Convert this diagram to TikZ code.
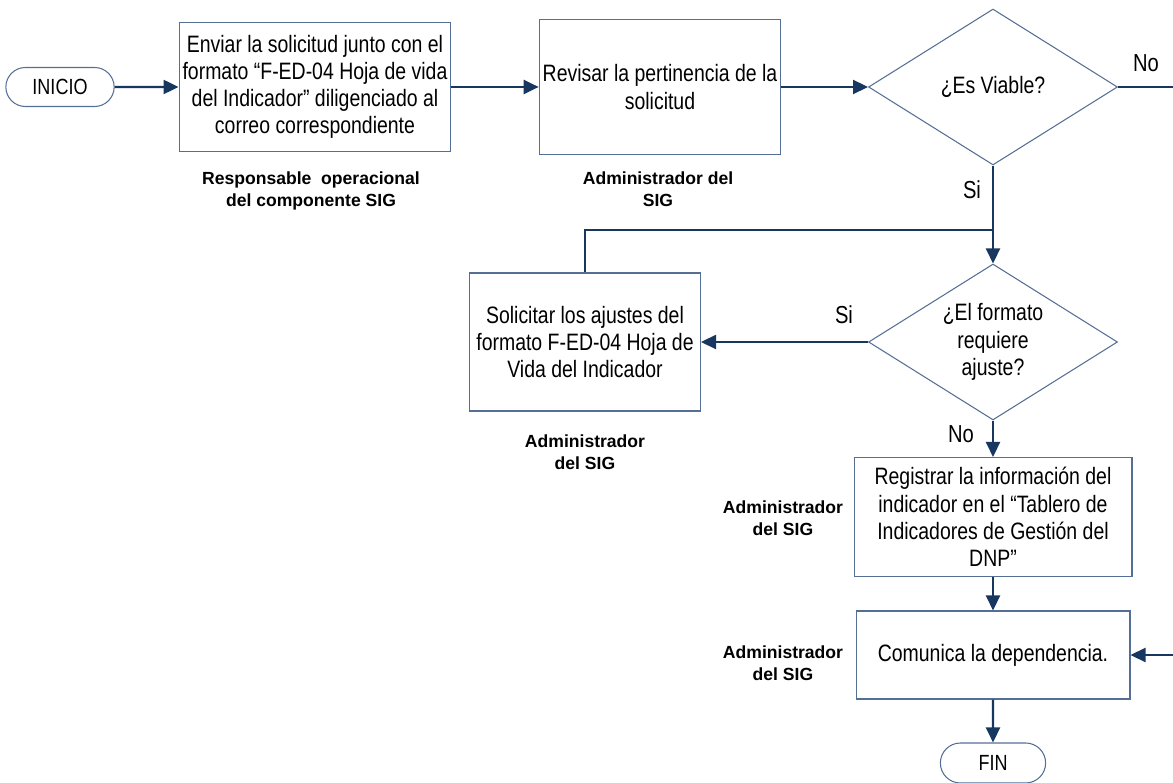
\documentclass[tikz,border=0pt]{standalone}
\usepackage{fontspec}
\setmainfont{Liberation Sans}[FakeStretch=0.82]
\newfontfamily\rolfont{Liberation Sans}
\usetikzlibrary{shapes.geometric,shapes.misc,arrows.meta}
\definecolor{borde}{RGB}{84,110,148}
\definecolor{azul}{RGB}{24,55,96}
\tikzset{
  proceso/.style={draw=borde,line width=0.6pt,align=center,inner sep=2pt,
    font=\fontsize{13.5}{15.5}\selectfont},
  decision/.style={diamond,draw=borde,line width=0.6pt,align=center,inner sep=0pt,
    aspect=1.6,minimum width=4.98cm,minimum height=3.12cm,
    font=\fontsize{13.5}{15.5}\selectfont},
  terminal/.style={rounded rectangle,draw=borde,line width=0.6pt,
    minimum height=0.78cm,font=\fontsize{12.5}{14}\selectfont},
  rol/.style={align=center,font=\rolfont\bfseries\fontsize{10}{12.5}\selectfont},
  rotulo/.style={font=\fontsize{14}{16}\selectfont},
  linea/.style={draw=azul,line width=1.3pt},
  flecha/.style={linea,-{Triangle[length=0.3cm,width=0.28cm]}}
}
\begin{document}
\begin{tikzpicture}[x=0.02cm,y=-0.02cm]
      \useasboundingbox (0,0) rectangle (1173,783);
      \path
        (60,87) node[terminal,minimum width=2.4cm] (inicio){INICIO}
        (315,87) node[proceso,minimum width=5.42cm,minimum height=2.58cm] (envio)
          {Enviar la solicitud junto con el\\formato “F-ED-04 Hoja de vida\\del Indicador” diligenciado al\\correo correspondiente}
        (660,87) node[proceso,minimum width=4.82cm,minimum height=2.7cm] (revisa)
          {Revisar la pertinencia de la\\solicitud}
        (993,87) node[decision] (viable){¿Es Viable?}
        (993,342) node[decision] (requiere){¿El formato\\requiere\\ajuste?}
        (585,342) node[proceso,minimum width=4.62cm,minimum height=2.76cm] (ajustes)
          {Solicitar los ajustes del\\formato F-ED-04 Hoja de\\Vida del Indicador}
        (993,517) node[proceso,minimum width=5.56cm,minimum height=2.38cm] (registra)
          {Registrar la información del\\indicador en el “Tablero de\\Indicadores de Gestión del\\DNP”}
        (993,655) node[proceso,minimum width=5.48cm,minimum height=1.76cm] (comunica)
          {Comunica la dependencia.}
        (993,763) node[terminal,minimum width=2.34cm,minimum height=0.8cm] (fin){FIN};
      \path
        (311,191) node[rol] (rol1){Responsable \ operacional\\del componente SIG}
        (658,189) node[rol] (rol2){Administrador del\\SIG}
        (585,452) node[rol] (rol3){Administrador\\del SIG}
        (783,518) node[rol] (rol4){Administrador\\del SIG}
        (783,663) node[rol] (rol5){Administrador\\del SIG}
        (1146,63) node[rotulo] (no1){No}
        (972,190) node[rotulo] (si1){Si}
        (844,315) node[rotulo] (si2){Si}
        (961,434) node[rotulo] (no2){No};
      \coordinate (junta) at (993,230);
      \coordinate (fuera) at (1190,87);
      \begin{scope}[flecha]
        \draw (inicio) to (envio);
        \draw (envio) to (revisa);
        \draw (revisa) to (viable);
        \draw (viable.south) to (requiere.north);
        \draw (requiere.west) to (ajustes.east);
        \draw (requiere.south) to (registra.north);
        \draw (registra) to (comunica);
        \draw (comunica) to (fin);
        \draw (viable.east) -- (fuera) |- (comunica.east);
      \end{scope}
      \draw[linea] (ajustes.north) |- (junta);
    \end{tikzpicture}
\end{document}
